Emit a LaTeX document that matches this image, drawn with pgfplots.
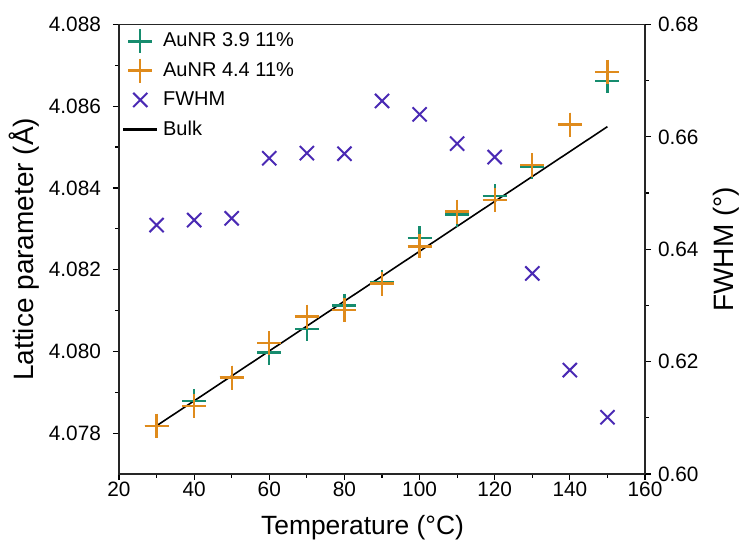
\documentclass[border=0pt]{standalone}
\usepackage{fontspec}
\setmainfont{Liberation Sans}
\usepackage{pgfplots}
\pgfplotsset{compat=1.18}
\usetikzlibrary{calc}
\definecolor{cgreen}{HTML}{168C6E}
\definecolor{corange}{HTML}{DF8B1C}
\definecolor{cpurple}{HTML}{4A2AB4}

\pgfplotsset{
  common/.style={
    scale only axis,
    width=263pt, height=224.75pt,
    xmin=20, xmax=160,
    tick align=outside,
    major tick length=3pt, minor tick length=1.8pt,
    every tick/.style={black, line width=0.6pt},
    axis line style={line width=0.6pt, black!85},
    tick label style={font=\fontsize{10.4}{12}\selectfont},
    /pgf/number format/assume math mode=true,
  }
}

\begin{document}
\begin{tikzpicture}
\begin{axis}[
  common,
  name=ax,
  tick pos=left,
  xtick={20,40,...,160},
  minor x tick num=1,
  xticklabel style={yshift=2.5pt},
  ymin=4.077, ymax=4.088,
  ytick={4.078,4.080,4.082,4.084,4.086,4.088},
  minor y tick num=1,
  yticklabel style={xshift=-2.5pt, /pgf/number format/.cd, fixed, fixed zerofill, precision=3},
  xlabel={Temperature (°C)},
  xlabel style={font=\fontsize{13.2}{15}\selectfont, at={(axis description cs:0.463,-0.120)}, anchor=center},
  ylabel={Lattice parameter (Å)},
  ylabel style={font=\fontsize{14}{16}\selectfont, at={(axis description cs:-0.1806,0.5)}, anchor=center},
  legend cell align=left,
  legend style={draw=none, fill=none, at={(0.0,1.0)}, anchor=north west,
    font=\fontsize{10}{12}\selectfont, row sep=2.2pt, inner xsep=1pt, inner ysep=2pt},
]
\addplot[only marks, mark=+, mark size=6pt, line width=1.2pt, color=cgreen] coordinates {
  (30,4.07818) (40,4.07879) (50,4.07936) (60,4.07997) (70,4.08055) (80,4.08112)
  (90,4.08170) (100,4.08277) (110,4.08335) (120,4.08380) (130,4.08452) (140,4.08555)
  (150,4.08661)
};
\addlegendentry{AuNR 3.9 11\%}
\addplot[only marks, mark=+, mark size=6pt, line width=1.2pt, color=corange] coordinates {
  (30,4.07818) (40,4.07867) (50,4.07936) (60,4.08020) (70,4.08085) (80,4.08101)
  (90,4.08166) (100,4.08257) (110,4.08342) (120,4.08371) (130,4.08456) (140,4.08555)
  (150,4.08684)
};
\addlegendentry{AuNR 4.4 11\%}
\addlegendimage{only marks, mark=x, mark size=5pt, line width=1pt, color=cpurple}
\addlegendentry{FWHM}
\addplot[black, line width=0.8pt, no marks, legend image post style={line width=1.8pt}] coordinates {
  (30,4.07818) (150,4.08550)
};
\addlegendentry{Bulk}
\end{axis}

\begin{axis}[
  common,
  axis x line=none,
  axis y line*=right,
  ymin=0.60, ymax=0.68,
  ytick={0.60,0.62,0.64,0.66,0.68},
  minor y tick num=1,
  yticklabel style={/pgf/number format/.cd, fixed, fixed zerofill, precision=2},
  ylabel={FWHM (°)},
  ylabel style={font=\fontsize{14}{16}\selectfont, at={(axis description cs:1.154,0.5)}, anchor=center},
]
\addplot[only marks, mark=x, mark size=5pt, line width=1pt, color=cpurple] coordinates {
  (30,0.6443) (40,0.6452) (50,0.6455) (60,0.6562) (70,0.6571) (80,0.6570)
  (90,0.6664) (100,0.6640) (110,0.6588) (120,0.6564) (130,0.6357) (140,0.6185)
  (150,0.6101)
};
\end{axis}
\pgfresetboundingbox
\path[use as bounding box] ($(ax.south west)+(-59.5pt,-35.5pt)$) rectangle ($(ax.north east)+(50pt,12.25pt)$);
\end{tikzpicture}
\end{document}
